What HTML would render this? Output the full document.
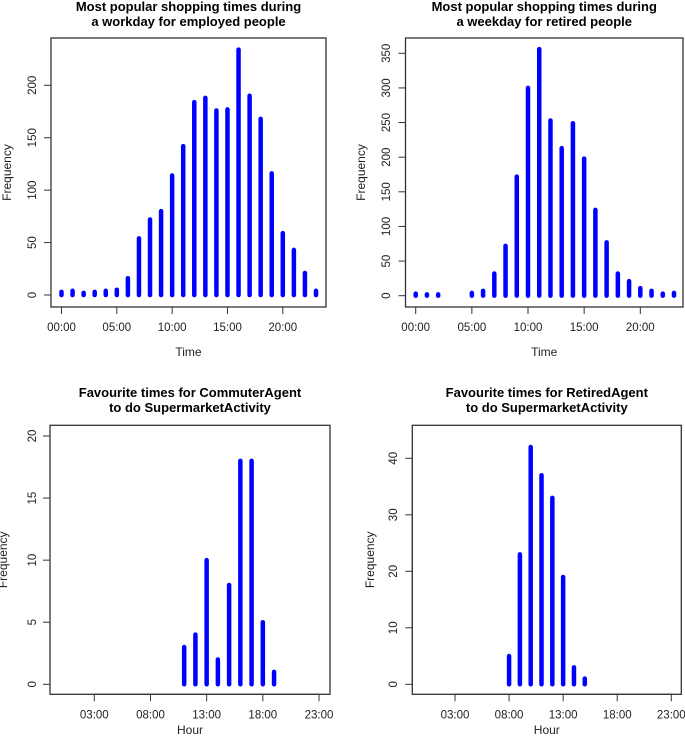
<!DOCTYPE html>
<html><head><meta charset="utf-8"><style>
body{margin:0;background:#fff}
svg{display:block;font-family:"Liberation Sans",Arial,sans-serif}
</style></head><body>
<svg id="c" width="685" height="744" viewBox="0 0 685 744"></svg>
<script>
const hoursAll=[0,1,2,3,4,5,6,7,8,9,10,11,12,13,14,15,16,17,18,19,20,21,22,23];
const employedValues=[3,4,2,3,4,5,16,54,72,80,114,142,184,188,176,177,234,190,168,116,59,43,21,4];
const retiredValues=[3,2,2,null,null,4,7,32,72,172,300,356,253,213,249,198,124,77,32,21,11,7,3,4];
const commuterHours=[11,12,13,14,15,16,17,18,19];
const commuterValues=[3,4,10,2,8,18,18,5,1];
const retiredAgentHours=[8,9,10,11,12,13,14,15];
const retiredAgentValues=[5,23,42,37,33,19,3,1];
const topTickHours=[0,5,10,15,20];
const topTickLabels=["00:00","05:00","10:00","15:00","20:00"];
const botTickHours=[3,8,13,18,23];
const botTickLabels=["03:00","08:00","13:00","18:00","23:00"];
const empYTicks=[0,50,100,150,200];
const retYTicks=[0,50,100,150,200,250,300,350];
const comYTicks=[0,5,10,15,20];
const raYTicks=[0,10,20,30,40];

const svg=document.getElementById('c');
const NS='http://www.w3.org/2000/svg';
function mk(tag,attrs,parent){const e=document.createElementNS(NS,tag);for(const k in attrs)e.setAttribute(k,attrs[k]);(parent||svg).appendChild(e);return e;}

function panel(p){
  const g=mk('g',{});
  
  
  const sx=h=>p.x0+(h-p.h0)*(p.x1-p.x0)/(p.h1-p.h0);
  const sy=v=>p.y0+(v-p.v0)*(p.y1-p.y0)/(p.v1-p.v0);
  const box=mk('rect',{x:p.bx0,y:p.by0,width:p.bx1-p.bx0,height:p.by1-p.by0,fill:'none',stroke:'#333','stroke-width':1.3},g);
  
  
  p.t.forEach((line,i)=>{
    const t=mk('text',{x:(p.bx0+p.bx1)/2,y:p.ty+i*15,'text-anchor':'middle','font-size':13,'font-weight':'bold',fill:'#000'},g);
    t.textContent=line;
    
    
  });
  // x axis
  const xa=mk('line',{x1:sx(p.xt[0]),x2:sx(p.xt[p.xt.length-1]),y1:p.by1,y2:p.by1,stroke:'#333'},g);
  
  
  p.xt.forEach((h,i)=>{
    mk('line',{x1:sx(h),x2:sx(h),y1:p.by1,y2:p.by1+7,stroke:'#333'},g);
    const t=mk('text',{x:sx(h),y:p.by1+24,'text-anchor':'middle','font-size':11.5,fill:'#222'},g);
    t.textContent=p.xl[i];
    
    
  });
  const xt=mk('text',{x:(p.bx0+p.bx1)/2,y:p.xly,'text-anchor':'middle','font-size':12,fill:'#222'},g);
  xt.textContent=p.xlab;
  
  
  // y axis
  const ya=mk('line',{x1:p.bx0,x2:p.bx0,y1:sy(p.yt[0]),y2:sy(p.yt[p.yt.length-1]),stroke:'#333'},g);
  
  
  p.yt.forEach(v=>{
    mk('line',{x1:p.bx0-7,x2:p.bx0,y1:sy(v),y2:sy(v),stroke:'#333'},g);
    const t=mk('text',{x:p.ytx,y:sy(v),'text-anchor':'middle','font-size':11.5,fill:'#222',transform:`rotate(-90 ${p.ytx} ${sy(v)})`},g);
    t.textContent=String(v);
    
    
  });
  const yt=mk('text',{x:p.ylx,y:(p.by0+p.by1)/2,'text-anchor':'middle','font-size':12,fill:'#222',transform:`rotate(-90 ${p.ylx} ${(p.by0+p.by1)/2})`},g);
  yt.textContent='Frequency';
  
  
  p.hs.forEach((h,i)=>{
    const v=p.vs[i];
    if(v===null||v===undefined)return;
    const b=mk('line',{x1:sx(h),x2:sx(h),y1:sy(0),y2:sy(v),stroke:'#0000ff','stroke-width':4.5,'stroke-linecap':'round'},g);
    
    
  });
}

panel({name:'employed-panel',t:['Most popular shopping times during','a workday for employed people'],ty:11,
  bx0:51,bx1:326,by0:38,by1:307,h0:0,h1:23,x0:61.5,x1:316,v0:0,v1:200,y0:295,y1:85.3,
  xt:topTickHours,xl:topTickLabels,yt:empYTicks,hs:hoursAll,vs:employedValues,xlab:'Time',xly:356,ytx:36,ylx:11});
panel({name:'retired-panel',t:['Most popular shopping times during','a weekday for retired people'],ty:11,
  bx0:405.5,bx1:683,by0:38,by1:307,h0:0,h1:23,x0:415.7,x1:674,v0:0,v1:350,y0:295.7,y1:53.3,
  xt:topTickHours,xl:topTickLabels,yt:retYTicks,hs:hoursAll,vs:retiredValues,xlab:'Time',xly:356,ytx:390,ylx:365});
panel({name:'commuter-agent-panel',t:['Favourite times for CommuterAgent','to do SupermarketActivity'],ty:397,
  bx0:50,bx1:330,by0:425.3,by1:694.3,h0:3,h1:23,x0:94.3,x1:319,v0:0,v1:20,y0:684.3,y1:436,
  xt:botTickHours,xl:botTickLabels,yt:comYTicks,hs:commuterHours,vs:commuterValues,xlab:'Hour',xly:734,ytx:36,ylx:7});
panel({name:'retired-agent-panel',t:['Favourite times for RetiredAgent','to do SupermarketActivity'],ty:397,
  bx0:412.3,bx1:681.3,by0:425.3,by1:694.3,h0:3,h1:23,x0:455,x1:671.3,v0:0,v1:40,y0:684.3,y1:458.3,
  xt:botTickHours,xl:botTickLabels,yt:raYTicks,hs:retiredAgentHours,vs:retiredAgentValues,xlab:'Hour',xly:734,ytx:397,ylx:374});
</script>
</body></html>
